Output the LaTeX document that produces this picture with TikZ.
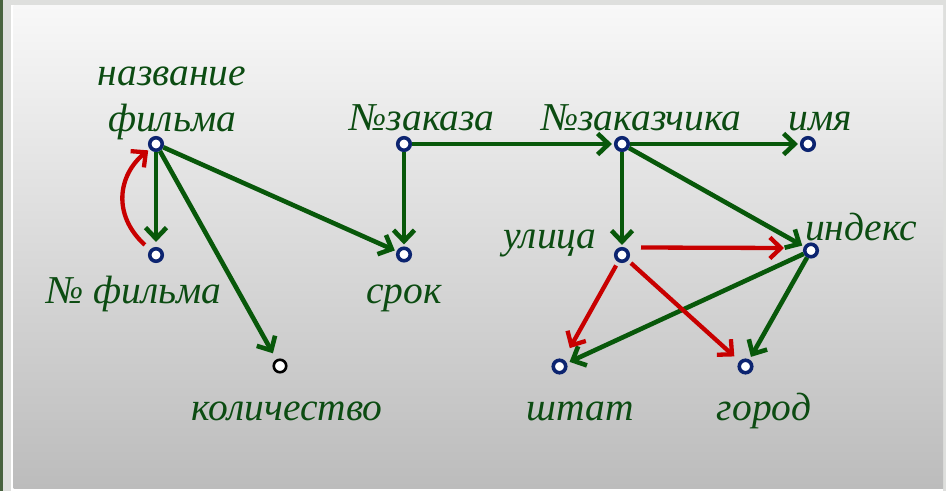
\documentclass[tikz,border=0pt]{standalone}
\usepackage{fontspec}
\setmainfont{Liberation Serif}
\usetikzlibrary{arrows.meta}

\definecolor{lblgreen}{RGB}{12,76,18}
\definecolor{arrgreen}{RGB}{8,88,10}
\definecolor{arrred}{RGB}{200,0,0}
\definecolor{ptnavy}{RGB}{12,36,112}
\definecolor{framegray}{RGB}{222,223,221}
\definecolor{framedark}{RGB}{72,98,62}
\definecolor{paneltop}{RGB}{248,248,248}
\definecolor{panelbot}{RGB}{188,188,188}

\tikzset{
  pt/.style={circle, draw=ptnavy, fill=white, line width=3.6pt, inner sep=0pt, minimum size=12.5pt},
  ptblack/.style={circle, draw=black, fill=white, line width=2.6pt, inner sep=0pt, minimum size=12.5pt},
  lbl/.style={text=lblgreen, font=\itshape\fontsize{39.5}{44}\selectfont, inner sep=0pt, anchor=base},
  garr/.style={draw=arrgreen, line width=4.6pt,
    -{Straight Barb[length=11pt,width=21pt]}, shorten >=2pt},
  rarr/.style={draw=arrred, line width=4.3pt,
    -{Straight Barb[length=11pt,width=21pt]}, shorten >=2pt},
}

\begin{document}
\begin{tikzpicture}[x=1pt, y=-1pt]
  \useasboundingbox (0,0) rectangle (946,491);

  % frame and panel
  \fill[framegray] (0,0) rectangle (946,491);
  \fill[framedark] (0,0) rectangle (2.5,491);
  \fill[white] (11,5) rectangle (14,491);
  \fill[white] (11,488) rectangle (943,491);
  \shade[top color=paneltop, bottom color=panelbot] (13.5,5) rectangle (943,488);

  % points
  \node[pt] (nf)    at (156,144) {};
  \node[pt] (nfilm) at (156,255) {};
  \node[ptblack] (kol) at (280,366) {};
  \node[pt] (nz)    at (404,144) {};
  \node[pt] (srok)  at (404,254.5) {};
  \node[pt] (nzk)   at (622,144) {};
  \node[pt] (imya)  at (808,144) {};
  \node[pt] (ul)    at (622,255) {};
  \node[pt] (ind)   at (811,250.5) {};
  \node[pt] (shtat) at (559.5,366.5) {};
  \node[pt] (gorod) at (745.5,366.5) {};

  % labels
  \node[lbl] (t1)  at (172,85)   {название};
  \node[lbl] (t2)  at (172,131.5) {фильма};
  \node[lbl] (t3)  at (134,303)  {№ фильма};
  \node[lbl] (t4)  at (287,420)  {количество};
  \node[lbl] (t5)  at (422,130)  {№заказа};
  \node[lbl] (t6)  at (641.5,130) {№заказчика};
  \node[lbl] (t7)  at (820,130)  {имя};
  \node[lbl] (t8)  at (404,303)  {срок};
  \node[lbl] (t9)  at (550,248)  {улица};
  \node[lbl] (t10) at (861,240)  {индекс};
  \node[lbl] (t11) at (580,420)  {штат};
  \node[lbl] (t12) at (764,420)  {город};

  % green dependencies
  \draw[garr, shorten >=5pt] (nf) -- (nfilm);
  \draw[garr, shorten >=7pt] (nf) -- (kol);
  \draw[garr] (nf) -- (srok);
  \draw[garr] (nz) -- (srok);
  \draw[garr] (nz) -- (nzk);
  \draw[garr] (nzk) -- (imya);
  \draw[garr] (nzk) -- (ul);
  \draw[garr] (nzk) -- (ind);
  \draw[garr, shorten >=3pt] (ind) -- (shtat);
  \draw[garr, shorten >=3pt] (ind) -- (gorod);

  % red dependencies
  \draw[rarr, shorten <=7pt] (nfilm) .. controls +(-44,-40) and +(-38,31) .. (nf);
  \draw[rarr] ([shift={(19pt,7.5pt)}]ul.center) -- ([shift={(-25pt,2.5pt)}]ind.center);
  \draw[rarr, shorten <=4pt, shorten >=13pt] (ul) -- (shtat);
  \draw[rarr, shorten <=4pt, shorten >=7pt] (ul) -- (gorod);
\end{tikzpicture}
\end{document}
